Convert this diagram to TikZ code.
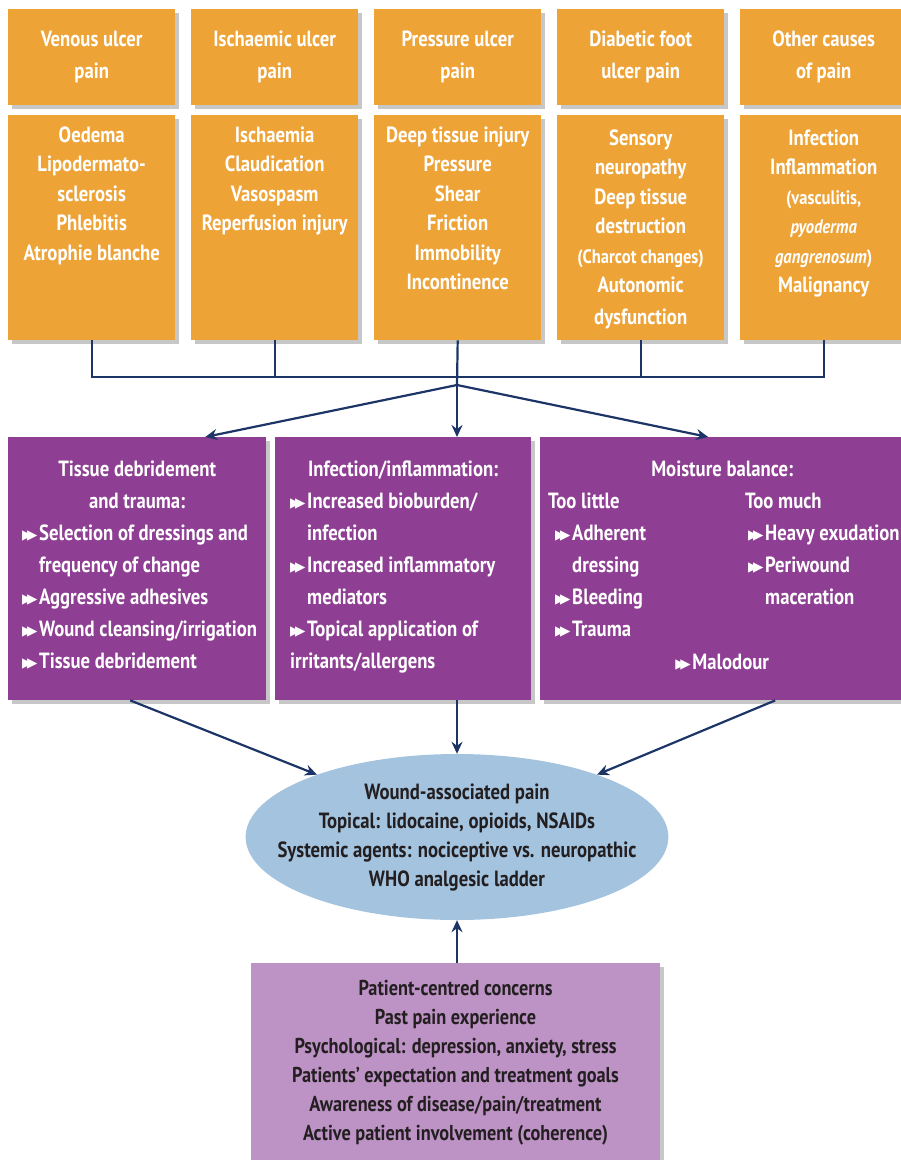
\documentclass[tikz,border=0pt]{standalone}
\usepackage{fontspec}
\setmainfont{PT Sans}[FakeStretch=0.85]
\newfontfamily\symfont{DejaVu Sans}
\usetikzlibrary{arrows.meta,shapes.geometric,shadows}

\definecolor{ulcerorange}{HTML}{EEA337}
\definecolor{factorpurple}{HTML}{8E3E93}
\definecolor{painblue}{HTML}{A4C3DF}
\definecolor{patientlilac}{HTML}{BD92C5}
\definecolor{linknavy}{HTML}{1C3566}
\definecolor{inktext}{HTML}{231F20}

\newcommand{\tri}{\makebox[17pt][l]{\symfont\fontsize{13.5}{13.5}\selectfont\raisebox{0.5pt}{▶\kern-5.5pt▶}}}
\newcommand{\itm}{\par\hangindent=17pt\hangafter=1\tri}
\newcommand{\sm}{\fontsize{19.5}{29.5}\selectfont}

\tikzset{
  boxshadow/.style={drop shadow={shadow xshift=4pt,shadow yshift=-4pt,fill=black,opacity=0.22}},
  typebox/.style={fill=ulcerorange, text=white, boxshadow, anchor=north west, inner sep=0pt,
    minimum width=167pt, minimum height=96pt, align=center,
    font=\bfseries\fontsize{22}{32}\selectfont},
  causebox/.style={fill=ulcerorange, text=white, boxshadow, anchor=north west, inner sep=0pt,
    font=\bfseries\fontsize{22}{29.5}\selectfont,
    execute at begin node={\begin{minipage}[t][225pt][t]{167pt}\centering\rule{0pt}{27pt}},
    execute at end node={\end{minipage}}},
  factorbox/.style 2 args={fill=factorpurple, text=white, boxshadow, anchor=north west,
    inner sep=0pt, font=\bfseries\fontsize{22}{32}\selectfont,
    execute at begin node={\begin{minipage}[t][263pt][t]{#1}\raggedright\leftskip=#2},
    execute at end node={\end{minipage}}},
  painellipse/.style={ellipse, fill=painblue, text=inktext, inner xsep=-30pt, inner ysep=0pt,
    minimum width=414pt, minimum height=166pt, align=center,
    font=\bfseries\fontsize{22}{29}\selectfont},
  patientbox/.style={fill=patientlilac, text=inktext, boxshadow, anchor=north, inner sep=0pt,
    minimum width=409pt, minimum height=200pt, align=center,
    font=\bfseries\fontsize{21.5}{29}\selectfont},
  link/.style={draw=linknavy, line width=2.2pt},
  linkarrow/.style={link, -{Stealth[length=12pt,width=11pt,inset=4pt]}}
}

\begin{document}
\begin{tikzpicture}[x=1pt,y=-1pt]

  \useasboundingbox (0,0) rectangle (901,1160);

  % ulcer types
  \foreach \i/\lbl in {1/{Venous ulcer\\pain},2/{Ischaemic ulcer\\pain},3/{Pressure ulcer\\pain},
                       4/{Diabetic foot\\ulcer pain},5/{Other causes\\of pain}}
    \node[typebox] (type\i) at ({8+(\i-1)*183},9) {\lbl};

  % causes of pain
  \node[causebox] (cause1) at (8,115) {Oedema\\Lipodermato-\\sclerosis\\Phlebitis\\Atrophie blanche};
  \node[causebox] (cause2) at (191,115) {Ischaemia\\Claudication\\Vasospasm\\Reperfusion injury};
  \node[causebox] (cause3) at (374,115) {Deep tissue injury\\Pressure\\Shear\\Friction\\Immobility\\Incontinence};
  \node[causebox] (cause4) at (557,115) {\rule{0pt}{30pt}Sensory\\neuropathy\\Deep tissue\\destruction\\{\sm(Charcot changes)}\\Autonomic\\[2pt]dysfunction};
  \node[causebox] (cause5) at (740,115) {\rule{0pt}{30pt}Infection\\Inflammation\\{\sm(vasculitis,}\\{\sm\itshape pyoderma}\\{\sm\itshape gangrenosum\upshape)}\\Malignancy};

  % collecting line
  \coordinate (bus) at (457,377);
  \coordinate (hub) at (457,385);
  \draw[link] (cause1.south) |- (cause5.south |- bus) -- (cause5.south);
  \foreach \i in {2,4}
    \draw[link] (cause\i.south) -- (cause\i.south |- bus);
  \draw[link] (cause3.south) -- (hub);

  % local factors
  \node[factorbox={258pt}{14pt}] (factor1) at (8,437) {%
    {\centering\rule{0pt}{39pt}Tissue debridement\\and trauma:\par}
    \itm Selection of dressings and\newline frequency of change
    \itm Aggressive adhesives
    \itm Wound cleansing/irrigation
    \itm Tissue debridement};
  \node[factorbox={256pt}{15pt}] (factor2) at (275,437) {%
    {\centering\rule{0pt}{39pt}Infection/inflammation:\par}
    \itm Increased bioburden/\newline infection
    \itm Increased inflammatory\newline mediators
    \itm Topical application of\newline irritants/allergens};
  \node[factorbox={364pt}{0pt}] (factor3) at (540,437) {%
    {\centering\rule{0pt}{39pt}Moisture balance:\par}
    \hspace*{8pt}\begin{minipage}[t]{197pt}\raggedright
      Too little\par\leftskip=7pt
      \itm Adherent\newline dressing
      \itm Bleeding
      \itm Trauma\strut\par
    \end{minipage}%
    \begin{minipage}[t]{159pt}\raggedright
      Too much\par\leftskip=3pt
      \itm Heavy exudation
      \itm Periwound\newline maceration\par
    \end{minipage}\par
    {\centering\strut\tri Malodour\par}};

  \draw[linkarrow] (hub) -- ([xshift=68pt]factor1.north);
  \draw[linkarrow] (hub) -- (factor2.north -| hub);
  \draw[linkarrow] (hub) -- ([xshift=-14pt]factor3.north);

  % wound-associated pain
  \node[painellipse] (pain) at (457,837) {Wound-associated pain\\Topical: lidocaine, opioids, NSAIDs\\
    Systemic agents: nociceptive vs. neuropathic\\WHO analgesic ladder};

  % patient factors
  \node[patientbox] (patient) at (455.5,963) {Patient-centred concerns\\Past pain experience\\
    Psychological: depression, anxiety, stress\\Patients’ expectation and treatment goals\\
    Awareness of disease/pain/treatment\\Active patient involvement (coherence)};

  \draw[linkarrow] ([xshift=-7pt]factor1.south) -- (pain.156);
  \draw[linkarrow] (factor2.south -| pain.north) -- (pain.north);
  \draw[linkarrow] ([xshift=53pt]factor3.south) -- (pain.24);
  \draw[linkarrow] (patient.north -| pain.south) -- (pain.south);

\end{tikzpicture}
\end{document}
